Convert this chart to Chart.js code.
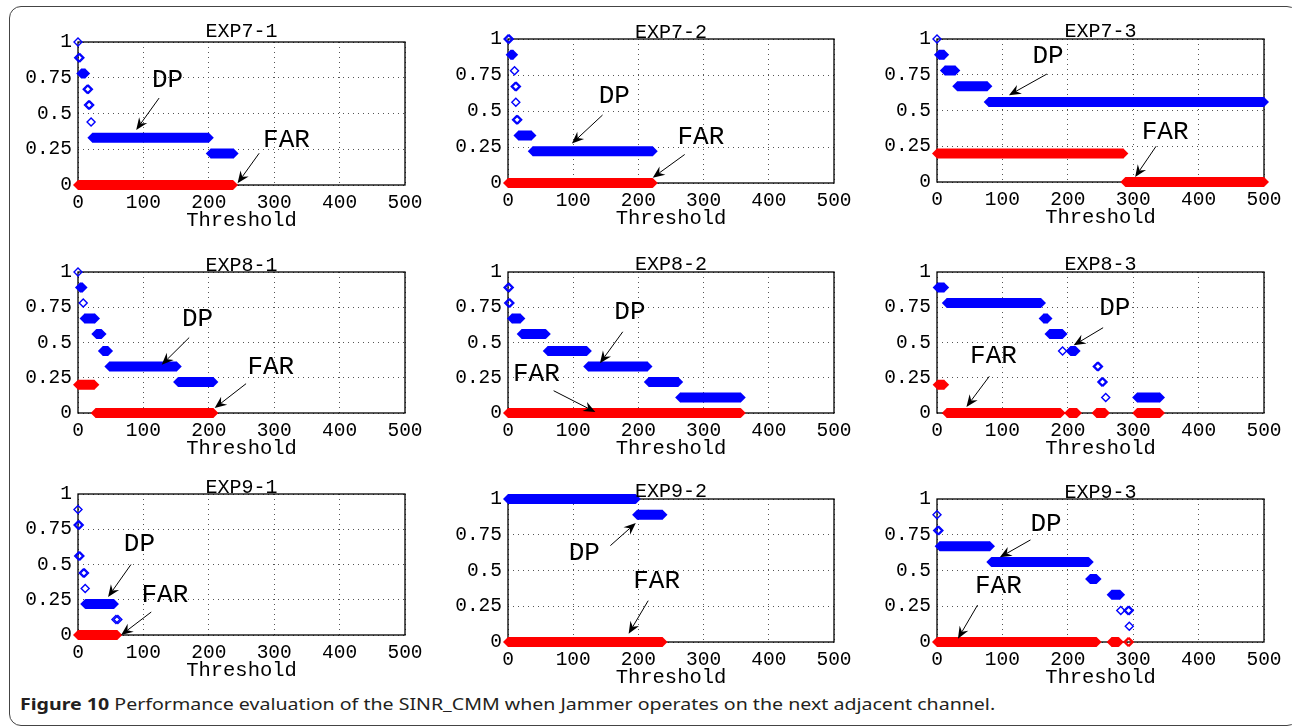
<!DOCTYPE html>
<html>
<head>
<meta charset="utf-8">
<script src="https://cdn.jsdelivr.net/npm/chart.js@4.4.0/dist/chart.umd.min.js"></script>
<style>
  html, body { margin: 0; padding: 0; background: #fff; }
  body { width: 1292px; height: 727px; overflow: hidden; position: relative; }
  #frame { position: absolute; left: 9px; top: 6px; width: 1290px; height: 720px;
           border: 1.5px solid #444; border-radius: 12px; box-sizing: border-box; }
  canvas.panel { position: absolute; }
  #caption { position: absolute; left: 20px; top: 694px; font-family: "Noto Sans"; font-size: 15.5px;
             line-height: 20px; color: #231f20; white-space: nowrap; transform-origin: left center; }
</style>
</head>
<body>
<div id="frame"></div>
<div id="caption"><b>Figure 10</b> Performance evaluation of the SINR_CMM when Jammer operates on the next adjacent channel.</div>
<script>
// runs: [thresholdFrom, thresholdTo, value]   points: [threshold, value]
const dp71Runs = [[5, 11, 0.78], [22, 200, 0.33], [203, 238, 0.22]];
const dp71Pts = [[0, 1], [1, 0.89], [3, 0.89], [14, 0.67], [16, 0.67], [16, 0.56], [18, 0.56], [20, 0.44]];
const far71Runs = [[0, 237, 0]];

const dp72Runs = [[4, 8, 0.89], [16, 36, 0.33], [38, 222, 0.22]];
const dp72Pts = [[0, 1], [2, 1], [10, 0.78], [11, 0.67], [13, 0.67], [12, 0.56], [13, 0.44], [15, 0.44]];
const far72Runs = [[0, 222, 0]];

const dp73Runs = [[3, 11, 0.89], [12, 28, 0.78], [31, 77, 0.67], [79, 500, 0.56]];
const dp73Pts = [[0, 1]];
const far73Runs = [[0, 285, 0.2], [288, 500, 0]];

const dp81Runs = [[3, 7, 0.89], [10, 26, 0.67], [28, 36, 0.56], [38, 46, 0.44], [48, 151, 0.33], [153, 207, 0.22]];
const dp81Pts = [[0, 1], [8, 0.78]];
const far81Runs = [[0, 25, 0.2], [27, 207, 0]];

const dp82Runs = [[6, 19, 0.67], [21, 58, 0.56], [61, 121, 0.44], [123, 214, 0.33], [216, 261, 0.22], [264, 357, 0.11]];
const dp82Pts = [[0, 0.89], [2, 0.89], [1, 0.78], [3, 0.78]];
const far82Runs = [[0, 357, 0]];

const dp83Runs = [[1, 11, 0.89], [15, 159, 0.78], [163, 169, 0.67], [172, 192, 0.56], [204, 212, 0.44], [306, 341, 0.11]];
const dp83Pts = [[192, 0.44], [245, 0.33], [247, 0.33], [252, 0.22], [254, 0.22], [258, 0.11]];
const far83Runs = [[1, 11, 0.2], [15, 189, 0], [202, 214, 0], [244, 257, 0], [306, 341, 0]];

const dp91Runs = [[11, 55, 0.22]];
const dp91Pts = [[0, 0.89], [0, 0.78], [2, 0.78], [1, 0.56], [3, 0.56], [8, 0.44], [10, 0.44], [11, 0.33], [58, 0.11], [61, 0.11]];
const far91Runs = [[0, 60, 0]];

const dp92Runs = [[0, 196, 1], [198, 237, 0.89]];
const dp92Pts = [];
const far92Runs = [[0, 237, 0]];

const dp93Runs = [[4, 81, 0.67], [83, 232, 0.56], [234, 244, 0.44], [267, 280, 0.33]];
const dp93Pts = [[0, 0.89], [1, 0.78], [3, 0.78], [281, 0.22], [292, 0.22], [294, 0.22], [294, 0.11]];
const far93Runs = [[0, 244, 0], [267, 278, 0]];
const far93Pts = [[292, 0], [294, 0]];

const xTicks = [0, 100, 200, 300, 400, 500];
const yTicks = [0, 0.25, 0.5, 0.75, 1];

// text labels with arrows: [text, textX, textY, arrowFromX, arrowFromY, arrowToX, arrowToY] (data units)
const notes71 = [['DP', 113, 0.685, 124, 0.608, 89, 0.385], ['FAR', 283, 0.266, 277, 0.222, 244, 0.012]];
const notes72 = [['DP', 139, 0.553, 145, 0.472, 98, 0.274], ['FAR', 260, 0.274, 271, 0.198, 222, 0.037]];
const notes73 = [['DP', 146, 0.83, 168, 0.755, 110, 0.607], ['FAR', 313, 0.304, 335, 0.25, 303, 0.035]];
const notes81 = [['DP', 159, 0.618, 170, 0.535, 128, 0.342], ['FAR', 259, 0.278, 257, 0.208, 209, 0.035]];
const notes82 = [['DP', 163, 0.67, 176, 0.576, 141, 0.353], ['FAR', 7.6, 0.23, 70, 0.158, 134, 0.007]];
const notes83 = [['DP', 248, 0.693, 254, 0.605, 209, 0.48], ['FAR', 50.5, 0.357, 80, 0.26, 45, 0.043]];
const notes91 = [['DP', 70, 0.593, 81, 0.5, 46, 0.27], ['FAR', 97, 0.234, 112, 0.163, 66, 0.0]];
const notes92 = [['DP', 93, 0.576, 157, 0.674, 196, 0.832], ['FAR', 192, 0.378, 215, 0.289, 185, 0.058]];
const notes93 = [['DP', 143, 0.773, 143, 0.714, 96, 0.592], ['FAR', 58, 0.34, 62, 0.258, 32, 0.023]];

const panels = [
  { title: 'EXP7-1', dpRuns: dp71Runs, dpPts: dp71Pts, farRuns: far71Runs, farPts: [], notes: notes71 },
  { title: 'EXP7-2', dpRuns: dp72Runs, dpPts: dp72Pts, farRuns: far72Runs, farPts: [], notes: notes72 },
  { title: 'EXP7-3', dpRuns: dp73Runs, dpPts: dp73Pts, farRuns: far73Runs, farPts: [], notes: notes73 },
  { title: 'EXP8-1', dpRuns: dp81Runs, dpPts: dp81Pts, farRuns: far81Runs, farPts: [], notes: notes81 },
  { title: 'EXP8-2', dpRuns: dp82Runs, dpPts: dp82Pts, farRuns: far82Runs, farPts: [], notes: notes82 },
  { title: 'EXP8-3', dpRuns: dp83Runs, dpPts: dp83Pts, farRuns: far83Runs, farPts: [], notes: notes83 },
  { title: 'EXP9-1', dpRuns: dp91Runs, dpPts: dp91Pts, farRuns: far91Runs, farPts: [], notes: notes91 },
  { title: 'EXP9-2', dpRuns: dp92Runs, dpPts: dp92Pts, farRuns: far92Runs, farPts: [], notes: notes92 },
  { title: 'EXP9-3', dpRuns: dp93Runs, dpPts: dp93Pts, farRuns: far93Runs, farPts: far93Pts, notes: notes93 }
];

// plot boxes on the page: [left, top, width, height, title gap]
const boxes = [
  [78, 42, 327, 143, 5], [508, 39, 326, 144, 1], [937, 39, 327, 143, 2],
  [78, 272, 327, 141, 1.5], [508, 272, 326, 141, 2], [937, 272, 327, 141, 2],
  [78, 494, 327, 141, 1], [508, 499, 326, 143, 2], [937, 499, 327, 143, 1]
];

const BLUE = '#0000ff', RED = '#ff0000';
const MONO = '"Liberation Mono", "Courier New", monospace';
const padL = 75, padT = 34, padR = 30, padB = 56;

function runData(runs) {
  const d = [];
  runs.forEach(r => {
    d.push({ x: r[0], y: r[2] }, { x: r[1], y: r[2] }, { x: r[1], y: null });
  });
  return d;
}

function runSet(runs, color) {
  return {
    data: runData(runs), borderColor: color, backgroundColor: color,
    borderWidth: 10, borderCapStyle: 'butt', spanGaps: false, tension: 0,
    pointStyle: 'rectRot', pointRadius: 5, pointBorderWidth: 0, pointBackgroundColor: color,
    clip: false
  };
}

function pointSet(pts, color) {
  return {
    data: pts.map(p => ({ x: p[0], y: p[1] })), showLine: false,
    pointStyle: 'rectRot', pointRadius: 4, pointBorderWidth: 1.4,
    pointBorderColor: color, pointBackgroundColor: 'rgba(0,0,0,0)',
    clip: false
  };
}

function drawArrow(ctx, x0, y0, x1, y1) {
  const ang = Math.atan2(y1 - y0, x1 - x0);
  const len = 12, half = 5, notch = 4;
  ctx.beginPath();
  ctx.moveTo(x0, y0);
  ctx.lineTo(x1 - Math.cos(ang) * (len - notch), y1 - Math.sin(ang) * (len - notch));
  ctx.stroke();
  ctx.save();
  ctx.translate(x1, y1);
  ctx.rotate(ang);
  ctx.beginPath();
  ctx.moveTo(0, 0);
  ctx.lineTo(-len, -half);
  ctx.lineTo(-len + notch, 0);
  ctx.lineTo(-len, half);
  ctx.closePath();
  ctx.fill();
  ctx.restore();
}

function makePanel(p, box) {
  const [L, T, W, H, gap] = box;
  const cv = document.createElement('canvas');
  cv.className = 'panel';
  cv.width = W + padL + padR;
  cv.height = H + padT + padB;
  cv.style.left = (L - padL) + 'px';
  cv.style.top = (T - padT) + 'px';
  cv.style.width = cv.width + 'px';
  cv.style.height = cv.height + 'px';
  document.body.appendChild(cv);

  const extras = {
    id: 'extras',
    beforeDatasetsDraw(chart) {
      const { ctx, chartArea: a } = chart;
      ctx.save();
      ctx.strokeStyle = '#000';
      ctx.lineWidth = 1.3;
      ctx.strokeRect(a.left, a.top, a.right - a.left, a.bottom - a.top);
      ctx.restore();
    },
    afterDraw(chart) {
      const { ctx, chartArea: a, scales } = chart;
      ctx.save();
      ctx.fillStyle = '#000';
      ctx.strokeStyle = '#000';
      ctx.font = '20px ' + MONO;
      ctx.textAlign = 'center';
      ctx.textBaseline = 'alphabetic';
      ctx.fillText(p.title, (a.left + a.right) / 2, a.top - gap);
      ctx.font = '26px ' + MONO;
      ctx.textAlign = 'left';
      ctx.lineWidth = 1;
      p.notes.forEach(n => {
        ctx.fillText(n[0], scales.x.getPixelForValue(n[1]), scales.y.getPixelForValue(n[2]));
        drawArrow(ctx,
          scales.x.getPixelForValue(n[3]), scales.y.getPixelForValue(n[4]),
          scales.x.getPixelForValue(n[5]), scales.y.getPixelForValue(n[6]));
      });
      ctx.restore();
    }
  };

  const datasets = [
    runSet(p.farRuns, RED), pointSet(p.farPts, RED),
    runSet(p.dpRuns, BLUE), pointSet(p.dpPts, BLUE)
  ];

  new Chart(cv, {
    type: 'line',
    data: { datasets: datasets },
    plugins: [extras],
    options: {
      responsive: false,
      animation: false,
      events: [],
      layout: { padding: { left: 0, top: padT, right: padR, bottom: 0 } },
      plugins: { legend: { display: false }, tooltip: { enabled: false } },
      scales: {
        x: {
          type: 'linear', min: xTicks[0], max: xTicks[xTicks.length - 1],
          afterFit: s => { s.height = padB; },
          afterBuildTicks: s => { s.ticks = xTicks.map(v => ({ value: v })); },
          ticks: { color: '#000', padding: 6, maxRotation: 0, autoSkip: false,
                   callback: v => String(v),
                   font: { family: MONO, size: 19.5 } },
          grid: { color: '#555', lineWidth: 1, drawTicks: false },
          border: { display: false, dash: [1, 4] },
          title: { display: true, text: 'Threshold', color: '#000',
                   font: { family: MONO, size: 20.5 }, padding: { top: 0, bottom: 8 } }
        },
        y: {
          type: 'linear', min: yTicks[0], max: yTicks[yTicks.length - 1],
          afterFit: s => { s.width = padL; },
          afterBuildTicks: s => { s.ticks = yTicks.map(v => ({ value: v })); },
          ticks: { color: '#000', padding: 6, autoSkip: false,
                   callback: v => String(v),
                   font: { family: MONO, size: 19.5 } },
          grid: { color: '#555', lineWidth: 1, drawTicks: false },
          border: { display: false, dash: [1, 4] }
        }
      }
    }
  });
}

panels.forEach((p, i) => makePanel(p, boxes[i]));

const cap = document.getElementById('caption');
cap.style.transform = 'scaleX(' + (975 / cap.offsetWidth) + ')';
</script>
</body>
</html>
